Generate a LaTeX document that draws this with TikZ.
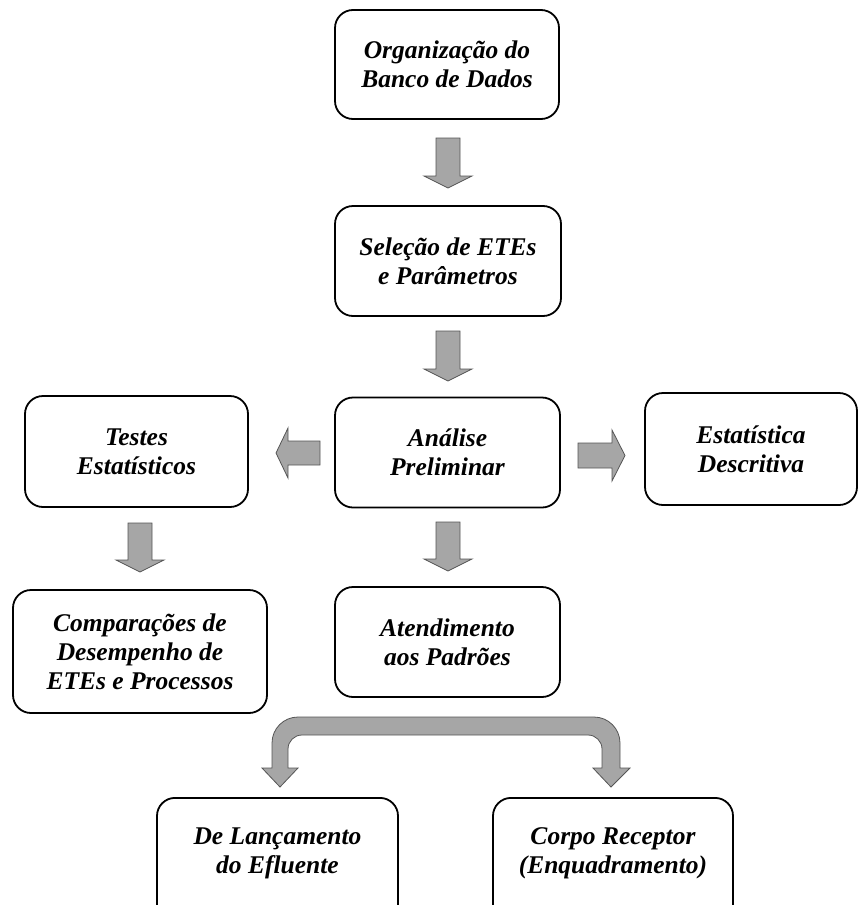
\documentclass[tikz,border=0pt]{standalone}
\usepackage{fontspec}
\setmainfont{Liberation Serif}
\definecolor{agray}{RGB}{166,166,166}
\definecolor{aline}{RGB}{85,85,85}
\tikzset{
  boxframe/.style={draw=black, line width=1.8pt, rounded corners=18pt, inner sep=0pt},
  boxtext/.style={align=center, inner sep=0pt, font=\fontsize{25.5}{29}\selectfont\bfseries\itshape},
  box/.style={boxframe, boxtext},
  blk/.style={fill=agray, draw=aline, line width=0.8pt, line join=miter}
}
% down block arrow: centre x, top y, head start y, tip y
\newcommand{\blkdown}[4]{\filldraw[blk] ({#1-12},#2) -- ({#1+12},#2) -- ({#1+12},#3) -- ({#1+24},#3) -- (#1,#4) -- ({#1-24},#3) -- ({#1-12},#3) -- cycle;}
\begin{document}
\begin{tikzpicture}[x=1pt,y=-1pt]
\useasboundingbox (0,0) rectangle (859,905);
\clip (0,0) rectangle (859,905);

\node[box, minimum width=224pt, minimum height=109pt] (org) at (447,64.5) {Organização do\\Banco de Dados};
\node[box, minimum width=226pt, minimum height=110pt] (sel) at (448,261) {Seleção de ETEs\\e Parâmetros};
\node[box, minimum width=225pt, minimum height=110pt] (ana) at (447.5,452.5) {Análise\\Preliminar};
\node[box, minimum width=223pt, minimum height=111pt] (tes) at (136.5,451.5) {Testes\\Estatísticos};
\node[box, minimum width=212pt, minimum height=112pt] (est) at (751,449) {Estatística\\Descritiva};
\node[box, minimum width=254pt, minimum height=123pt] (com) at (140,651.5) {Comparações de\\Desempenho de\\ETEs e Processos};
\node[box, minimum width=225pt, minimum height=110pt] (ate) at (447.5,642) {Atendimento\\aos Padrões};

\node[boxframe, minimum width=241pt, minimum height=140pt, anchor=north] (lan) at (277.5,797) {};
\node[boxtext] (lant) at (277.5,853) {De Lançamento\\do Efluente};
\node[boxframe, minimum width=240pt, minimum height=140pt, anchor=north] (cor) at (613,797) {};
\node[boxtext] (cort) at (613,853) {Corpo Receptor\\(Enquadramento)};

% straight block arrows
\blkdown{448}{138}{176}{188}
\blkdown{448}{331}{369}{381}
\blkdown{448}{522}{559}{571}
\blkdown{140}{523}{560}{572}
% left arrow
\filldraw[blk] (320,441) -- (320,465) -- (288,465) -- (288,478) -- (276,453) -- (288,428) -- (288,441) -- cycle;
% right arrow
\filldraw[blk] (578,443) -- (578,468) -- (612,468) -- (612,481) -- (625,455.5) -- (612,430) -- (612,443) -- cycle;

% curved double block arrow
\filldraw[blk] (262,768) -- (280,787) -- (298,768) -- (288,768) -- (288,749)
  arc[start angle=180, end angle=270, radius=14] -- (588,735)
  arc[start angle=270, end angle=360, radius=14] -- (602,768)
  -- (593,768) -- (611,787) -- (630,768) -- (620,768) -- (620,743)
  arc[start angle=0, end angle=-90, radius=26] -- (298,717)
  arc[start angle=270, end angle=180, radius=26] -- (272,768) -- cycle;
\end{tikzpicture}
\end{document}
